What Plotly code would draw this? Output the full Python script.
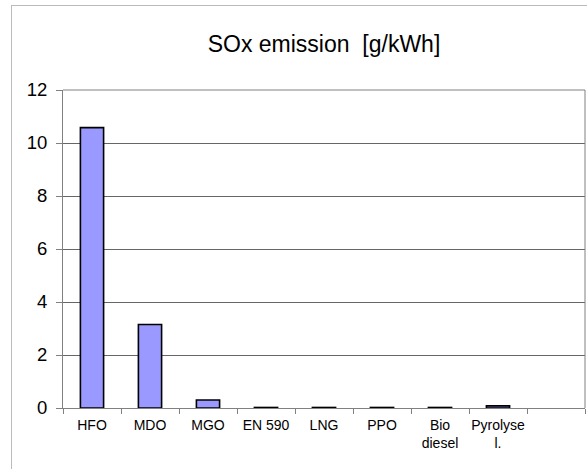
import plotly.graph_objects as go

categories = ["HFO", "MDO", "MGO", "EN 590", "LNG", "PPO", "Bio<br>diesel", "Pyrolyse<br>l."]
values = [10.58, 3.15, 0.3, 0.02, 0.02, 0.02, 0.02, 0.08]
all_slots = categories + [" "]
y_ticks = [0, 2, 4, 6, 8, 10, 12]

fig = go.Figure()
fig.add_trace(go.Bar(
    x=categories, y=values, width=0.4,
    marker=dict(color="#9999FF", line=dict(color="#000000", width=1.6)),
))

W, H = 587, 469
ml, mr, mt, mb = 63, 2, 90, 61
pw, ph = W - ml - mr, H - mt - mb
def px_x(p): return (p - ml) / pw
def px_y(p): return (H - mb - p) / ph

fig.update_layout(
    width=W, height=H,
    margin=dict(l=ml, r=mr, t=mt, b=mb, autoexpand=False),
    paper_bgcolor="white", plot_bgcolor="white",
    showlegend=False,
    font=dict(family="Liberation Sans, Arial, sans-serif", color="#000000"),
    title=dict(text="SOx emission  [g/kWh]", x=0.5, xref="paper", xanchor="center",
               y=1 - 44 / H, yanchor="middle", font=dict(size=23)),
    xaxis=dict(type="category", categoryorder="array", categoryarray=all_slots,
               range=[-0.5, 8.5], tickson="boundaries", ticks="outside", ticklen=5,
               tickcolor="#808080", showline=True, linecolor="#808080", linewidth=1,
               mirror=False, showgrid=False, tickfont=dict(size=14), tickangle=0,
               automargin=False, ticklabelstandoff=4, fixedrange=True),
    yaxis=dict(range=[0, 12], tickvals=y_ticks, ticks="outside", ticklen=6,
               tickcolor="#808080", showline=True, linecolor="#808080", linewidth=1,
               showgrid=True, gridcolor="#666666", gridwidth=1, zeroline=False,
               tickfont=dict(size=18.5), ticklabelstandoff=5, automargin=False,
               fixedrange=True),
    shapes=[
        # plot area border top/right
        dict(type="line", xref="paper", yref="paper", x0=0, x1=1, y0=1, y1=1,
             line=dict(color="#808080", width=1)),
        dict(type="line", xref="paper", yref="paper", x0=1, x1=1, y0=0, y1=1,
             line=dict(color="#808080", width=1)),
        # outer chart frame
        dict(type="line", xref="paper", yref="paper", x0=px_x(11), x1=px_x(590),
             y0=px_y(5.5), y1=px_y(5.5), line=dict(color="#BBBBBB", width=1)),
        dict(type="line", xref="paper", yref="paper", x0=px_x(11.5), x1=px_x(11.5),
             y0=px_y(5.5), y1=px_y(475), line=dict(color="#BBBBBB", width=1)),
    ],
)

fig.write_html("out.html")
